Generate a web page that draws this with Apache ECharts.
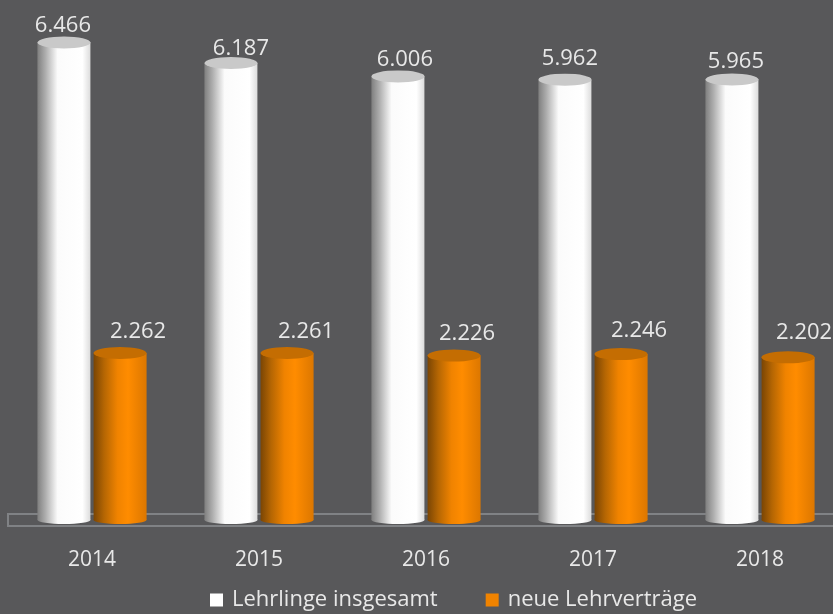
<!DOCTYPE html>
<html>
<head>
<meta charset="utf-8">
<style>
  html, body { margin: 0; padding: 0; background: #58585a; }
  #chart { width: 833px; height: 614px; }
</style>
<script src="https://cdn.jsdelivr.net/npm/echarts@6/dist/echarts.min.js"></script>
</head>
<body>
<div id="chart"></div>
<script>
const years = ['2014', '2015', '2016', '2017', '2018']
const lehrlinge = [6466, 6187, 6006, 5962, 5965]
const vertraege = [2262, 2261, 2226, 2246, 2202]

// label shifts, the labels in the original don't sit centred over the bars
const lehrlingeLabelShift = [[-1, 1], [10, 4], [7, 1], [5, -3], [4, 0]]
const vertraegeLabelShift = [[18, -3], [19, -3], [13, -4], [18, -5], [16, -7]]

const fontName = '"Open Sans", sans-serif'
const barW = 53
const barShift = 28

function cylinder(stops) {
  return {
    type: 'linear', x: 0, y: 0, x2: 1, y2: 0,
    colorStops: stops.map(s => ({ offset: s[0], color: s[1] }))
  }
}
const whiteBody = cylinder([[0, '#7f7f7f'], [0.15, '#adadad'], [0.38, '#fbfbfb'], [0.85, '#ffffff'], [1, '#dcdcdc']])
const orangeBody = cylinder([[0, '#7a4504'], [0.2, '#b56603'], [0.45, '#f08300'], [0.65, '#ff8c00'], [1, '#dc7700']])

function fmt(v) {
  return String(v).replace(/(\d)(\d{3})$/, '$1.$2')
}

function barSeries(name, values, shifts, body) {
  return {
    name: name,
    type: 'bar',
    barWidth: barW,
    barGap: '6%',
    z: 2,
    itemStyle: { color: body },
    data: values.map((v, i) => ({
      value: v,
      label: { offset: shifts[i] }
    })),
    label: {
      show: true,
      position: 'top',
      distance: 7,
      color: '#e8e8e8',
      fontFamily: fontName,
      fontSize: 22,
      formatter: p => fmt(p.value)
    }
  }
}

// ellipses for the top and bottom of the cylinders
function capSeries(values, side, color, atEnd) {
  return {
    type: 'pictorialBar',
    symbol: 'circle',
    symbolSize: [barW, atEnd ? 12 : 8],
    symbolPosition: atEnd ? 'end' : 'start',
    symbolOffset: [side * barShift, atEnd ? '-50%' : '50%'],
    barWidth: barW,
    barGap: '-100%',
    z: atEnd ? 4 : 1,
    itemStyle: { color: color },
    silent: true,
    data: values
  }
}

const chart = echarts.init(document.getElementById('chart'))
chart.setOption({
  animation: false,
  backgroundColor: '#58585a',
  // the floor and last bars run past the right edge of the picture
  grid: { left: 8.5, width: 835, top: 3, bottom: 94, outerBoundsMode: 'none' },
  graphic: [{
    type: 'rect',
    z: 0,
    shape: { x: 8, y: 514, width: 840, height: 12 },
    style: { fill: 'transparent', stroke: '#808285', lineWidth: 2 }
  }],
  legend: {
    left: 205,
    top: 584,
    itemWidth: 13,
    itemHeight: 13,
    itemGap: 48,
    icon: 'rect',
    textStyle: { color: '#e8e8e8', fontFamily: fontName, fontSize: 22, padding: [0, 0, 0, 4] },
    data: [
      { name: 'Lehrlinge insgesamt', itemStyle: { color: '#ffffff' } },
      { name: 'neue Lehrverträge', itemStyle: { color: '#f08300' } }
    ]
  },
  xAxis: {
    type: 'category',
    data: years,
    axisLine: { show: false },
    axisTick: { show: false },
    axisLabel: { color: '#e8e8e8', fontFamily: fontName, fontSize: 21, margin: 30 }
  },
  yAxis: {
    type: 'value',
    min: 0,
    max: 7000,
    show: false,
    splitLine: { show: false }
  },
  series: [
    barSeries('Lehrlinge insgesamt', lehrlinge, lehrlingeLabelShift, whiteBody),
    barSeries('neue Lehrverträge', vertraege, vertraegeLabelShift, orangeBody),
    capSeries(lehrlinge, -1, whiteBody, false),
    capSeries(vertraege, 1, orangeBody, false),
    capSeries(lehrlinge, -1, '#c9c9c9', true),
    capSeries(vertraege, 1, '#c46d02', true)
  ]
})
</script>
</body>
</html>
